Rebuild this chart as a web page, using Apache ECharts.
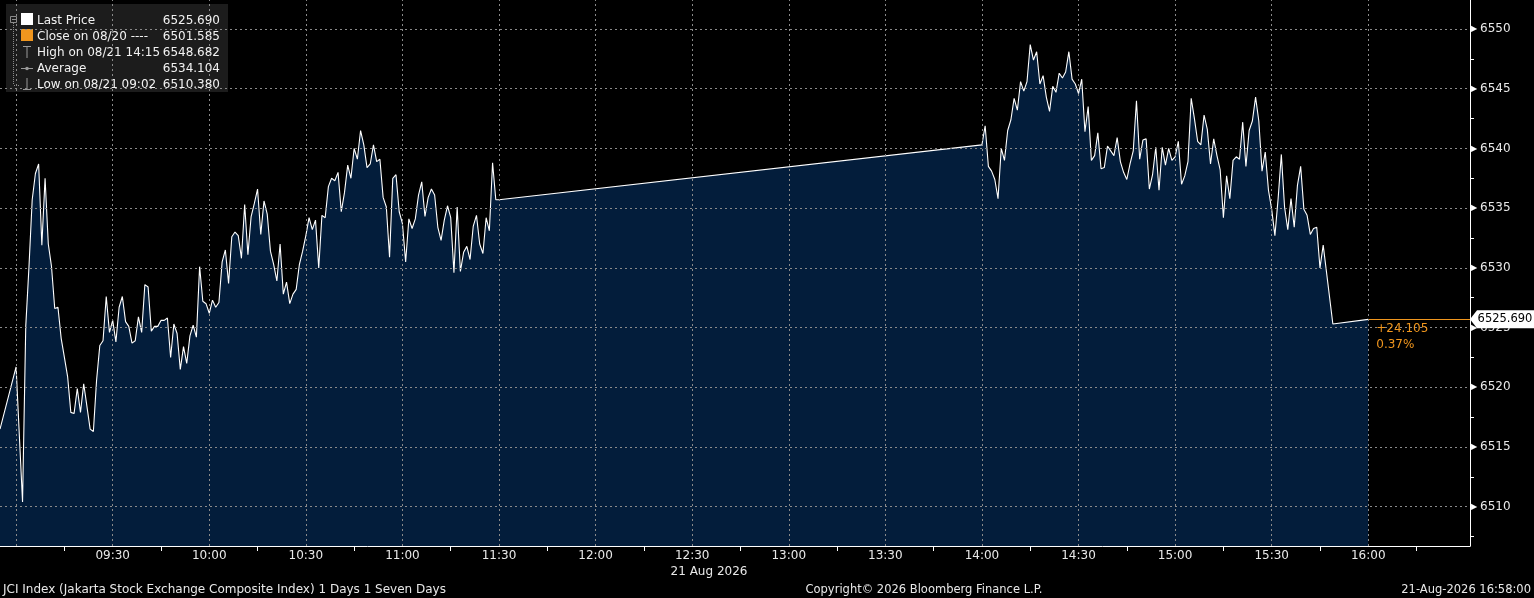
<!DOCTYPE html>
<html><head><meta charset="utf-8">
<script src="https://cdn.jsdelivr.net/npm/echarts@6/dist/echarts.min.js"></script>
<style>html,body{margin:0;padding:0;background:#000;}#c{width:1534px;height:598px;}</style>
</head><body><div id="c"></div>
<script>
// ---------- data ----------
const times1 = ['08:55',
'09:00','09:01','09:02','09:03','09:04','09:05','09:06','09:07','09:08','09:09',
'09:10','09:11','09:12','09:13','09:14','09:15','09:16','09:17','09:18','09:19',
'09:20','09:21','09:22','09:23','09:24','09:25','09:26','09:27','09:28','09:29',
'09:30','09:31','09:32','09:33','09:34','09:35','09:36','09:37','09:38','09:39',
'09:40','09:41','09:42','09:43','09:44','09:45','09:46','09:47','09:48','09:49',
'09:50','09:51','09:52','09:53','09:54','09:55','09:56','09:57','09:58','09:59',
'10:00','10:01','10:02','10:03','10:04','10:05','10:06','10:07','10:08','10:09',
'10:10','10:11','10:12','10:13','10:14','10:15','10:16','10:17','10:18','10:19',
'10:20','10:21','10:22','10:23','10:24','10:25','10:26','10:27','10:28','10:29',
'10:30','10:31','10:32','10:33','10:34','10:35','10:36','10:37','10:38','10:39',
'10:40','10:41','10:42','10:43','10:44','10:45','10:46','10:47','10:48','10:49',
'10:50','10:51','10:52','10:53','10:54','10:55','10:56','10:57','10:58','10:59',
'11:00','11:01','11:02','11:03','11:04','11:05','11:06','11:07','11:08','11:09',
'11:10','11:11','11:12','11:13','11:14','11:15','11:16','11:17','11:18','11:19',
'11:20','11:21','11:22','11:23','11:24','11:25','11:26','11:27','11:28','11:29',
'11:30'];
const prices1 = [6516.5,
6521.7,6516.0,6510.4,6525.1,6530.1,6535.7,6537.9,6538.7,6531.9,6537.5,
6532.0,6530.1,6526.6,6526.7,6524.1,6522.5,6520.9,6517.9,6517.8,6519.9,
6517.9,6520.3,6518.4,6516.5,6516.3,6520.6,6523.5,6523.9,6527.6,6524.6,
6525.6,6523.8,6526.7,6527.6,6525.5,6525.1,6523.7,6523.9,6525.9,6524.6,
6528.6,6528.4,6524.7,6525.1,6525.1,6525.6,6525.6,6525.8,6522.5,6525.3,
6524.5,6521.5,6523.4,6522.0,6524.3,6525.2,6524.2,6530.1,6527.2,6527.0,
6526.2,6527.3,6526.7,6527.1,6530.5,6531.5,6528.7,6532.6,6533.0,6532.7,
6530.8,6535.3,6531.1,6534.3,6535.4,6536.6,6532.8,6535.6,6534.5,6531.4,
6530.3,6528.9,6532.0,6527.8,6528.8,6527.0,6527.8,6528.2,6530.3,6531.4,
6532.7,6534.2,6533.2,6534.0,6530.0,6534.4,6534.2,6536.8,6537.5,6537.3,
6538.0,6534.7,6536.3,6538.6,6537.5,6540.0,6539.1,6541.5,6540.3,6538.4,
6538.7,6540.3,6538.9,6539.1,6535.9,6535.1,6530.9,6537.5,6537.8,6534.7,
6533.7,6530.5,6534.1,6533.3,6534.1,6536.1,6537.2,6534.3,6535.9,6536.6,
6536.1,6533.4,6532.3,6534.0,6535.2,6534.2,6529.6,6535.1,6529.7,6531.3,
6531.8,6530.7,6533.5,6534.4,6532.0,6531.2,6534.2,6533.1,6538.8,6535.7,
6535.7];
const times2 = [
'14:00','14:01','14:02','14:03','14:04','14:05','14:06','14:07','14:08','14:09',
'14:10','14:11','14:12','14:13','14:14','14:15','14:16','14:17','14:18','14:19',
'14:20','14:21','14:22','14:23','14:24','14:25','14:26','14:27','14:28','14:29',
'14:30','14:31','14:32','14:33','14:34','14:35','14:36','14:37','14:38','14:39',
'14:40','14:41','14:42','14:43','14:44','14:45','14:46','14:47','14:48','14:49',
'14:50','14:51','14:52','14:53','14:54','14:55','14:56','14:57','14:58','14:59',
'15:00','15:01','15:02','15:03','15:04','15:05','15:06','15:07','15:08','15:09',
'15:10','15:11','15:12','15:13','15:14','15:15','15:16','15:17','15:18','15:19',
'15:20','15:21','15:22','15:23','15:24','15:25','15:26','15:27','15:28','15:29',
'15:30','15:31','15:32','15:33','15:34','15:35','15:36','15:37','15:38','15:39',
'15:40','15:41','15:42','15:43','15:44','15:45','15:46',
'15:49','16:00'];
const prices2 = [
6540.3,6541.9,6538.5,6538.1,6537.4,6535.8,6540.0,6539.0,6541.5,6542.4,
6544.2,6543.2,6545.6,6544.8,6545.6,6548.7,6547.4,6548.1,6545.4,6546.1,
6544.3,6543.1,6545.2,6544.7,6546.3,6545.9,6546.4,6548.1,6545.8,6545.4,
6544.6,6545.8,6541.4,6543.5,6539.0,6539.4,6541.3,6538.3,6538.4,6540.2,
6539.8,6539.4,6540.9,6538.9,6538.0,6537.4,6538.7,6539.8,6544.0,6539.1,
6540.7,6540.8,6536.6,6537.8,6540.1,6536.5,6540.1,6538.6,6540.0,6539.0,
6539.3,6540.6,6537.0,6537.7,6538.9,6544.2,6542.5,6540.6,6540.3,6542.8,
6541.6,6538.7,6540.8,6539.4,6538.2,6534.2,6537.7,6535.8,6539.0,6539.3,
6539.1,6542.2,6538.5,6541.5,6542.3,6544.3,6542.3,6538.1,6539.7,6536.5,
6534.9,6532.7,6535.8,6539.5,6535.1,6533.2,6535.8,6533.4,6536.9,6538.5,
6534.9,6534.4,6532.8,6533.3,6533.4,6530.0,6531.9,
6525.3,6525.69];

const xLabelTimes = ['09:30','10:00','10:30','11:00','11:30','12:00','12:30','13:00','13:30','14:00','14:30','15:00','15:30','16:00'];
const xTickTimes = ['09:15','09:45','10:15','10:45','11:15','11:45','12:15','12:45','13:15','13:45','14:15','14:45','15:15','15:45','16:15'];
const xGridTimes = ['09:00','09:30','10:00','10:30','11:00','11:30','12:00','12:30','13:00','13:30','14:00','14:30','15:00','15:30','16:00'];
const yMinorTicks = [6507.5,6512.5,6517.5,6522.5,6527.5,6532.5,6537.5,6542.5,6547.5];

const legendLabels = ['Last Price','Close on 08/20 ----','High on 08/21 14:15','Average','Low on 08/21 09:02'];
const legendValues = ['6525.690','6501.585','6548.682','6534.104','6510.380'];
const lastPrice = 6525.690;
const lastTime = '16:00';
const changeLines = ['+24.105','0.37%'];
const dateLabel = '21 Aug 2026';
const footerLeft = 'JCI Index (Jakarta Stock Exchange Composite Index) 1 Days 1 Seven Days';
const footerCenter = 'Copyright\u00A9 2026 Bloomberg Finance L.P.';
const footerRight = '21-Aug-2026 16:58:00';

// axis extents (minutes since midnight / index points)
const xMin = 535.0, xMax = 991.6;
const yMin = 6506.71, yMax = 6552.43;

// ---------- build ----------
const toMin = s => { const p = s.split(':'); return (+p[0]) * 60 + (+p[1]); };
const pad = n => (n < 10 ? '0' : '') + n;
const fmt = v => pad(Math.floor(v / 60)) + ':' + pad(Math.round(v % 60));
const isMajor = v => Math.abs(v % 5) < 1e-6;

const priceData = times1.map((t, i) => [toMin(t), prices1[i]])
  .concat(times2.map((t, i) => [toMin(t), prices2[i]]));

const FONT = 'DejaVu Sans';
const TXT = '#e8e8e8';
const GRIDC = '#8a8a8a';
const ORANGE = '#f0961e';

const chart = echarts.init(document.getElementById('c'), null, {renderer: 'canvas'});

const legendGraphics = [
  {type: 'rect', shape: {x: 6, y: 4, width: 222, height: 88}, style: {fill: '#1c1c1c'}},
  {type: 'rect', shape: {x: 10.5, y: 16.5, width: 6, height: 6}, style: {fill: 'none', stroke: '#8c8c8c', lineWidth: 1}},
  {type: 'line', shape: {x1: 12, y1: 19.5, x2: 16, y2: 19.5}, style: {stroke: '#8c8c8c', lineWidth: 1}},
  {type: 'line', shape: {x1: 13.5, y1: 23, x2: 13.5, y2: 85}, style: {stroke: '#8c8c8c', lineWidth: 1, lineDash: [1, 1]}},
  {type: 'line', shape: {x1: 14, y1: 85.5, x2: 20, y2: 85.5}, style: {stroke: '#8c8c8c', lineWidth: 1, lineDash: [1, 1]}},
  {type: 'rect', shape: {x: 21, y: 13, width: 12, height: 12}, style: {fill: '#ffffff'}},
  {type: 'rect', shape: {x: 21, y: 29, width: 12, height: 12}, style: {fill: ORANGE}},
  {type: 'line', shape: {x1: 23, y1: 46.5, x2: 31, y2: 46.5}, style: {stroke: '#9a9a9a', lineWidth: 1}},
  {type: 'line', shape: {x1: 27, y1: 46, x2: 27, y2: 58}, style: {stroke: '#9a9a9a', lineWidth: 1}},
  {type: 'line', shape: {x1: 21, y1: 68.5, x2: 33, y2: 68.5}, style: {stroke: '#9a9a9a', lineWidth: 1}},
  {type: 'circle', shape: {cx: 27, cy: 68.5, r: 1.8}, style: {fill: '#9a9a9a'}},
  {type: 'line', shape: {x1: 27, y1: 78, x2: 27, y2: 90}, style: {stroke: '#9a9a9a', lineWidth: 1}},
  {type: 'line', shape: {x1: 23, y1: 89.5, x2: 31, y2: 89.5}, style: {stroke: '#9a9a9a', lineWidth: 1}}
];
legendLabels.forEach((lab, i) => {
  const y = 20.5 + i * 16;
  legendGraphics.push({type: 'text', x: 37, y: y, style: {text: lab, fill: '#f2f2f2', font: '12px "' + FONT + '"', textVerticalAlign: 'middle'}});
  legendGraphics.push({type: 'text', x: 220, y: y, style: {text: legendValues[i], fill: '#f2f2f2', font: '12px "' + FONT + '"', textAlign: 'right', textVerticalAlign: 'middle'}});
});

const footerGraphics = [
  {type: 'text', x: 3, y: 590, style: {text: footerLeft, fill: TXT, font: '12px "' + FONT + '"', textVerticalAlign: 'middle'}},
  {type: 'text', x: 924, y: 590, style: {text: footerCenter, fill: TXT, font: '11.5px "' + FONT + '"', textAlign: 'center', textVerticalAlign: 'middle'}},
  {type: 'text', x: 1531, y: 590, style: {text: footerRight, fill: TXT, font: '11.5px "' + FONT + '"', textAlign: 'right', textVerticalAlign: 'middle'}},
  {type: 'text', x: 709, y: 572, style: {text: dateLabel, fill: TXT, font: '12px "' + FONT + '"', textAlign: 'center', textVerticalAlign: 'middle'}}
];

const option = {
  backgroundColor: '#000000',
  animation: false,
  textStyle: {fontFamily: FONT},
  grid: {left: 0, right: 64, top: 0, bottom: 52, containLabel: false},
  xAxis: [{
    type: 'value', min: xMin, max: xMax,
    axisLine: {show: true, lineStyle: {color: '#ffffff', width: 1}},
    axisTick: {show: true, customValues: xTickTimes.map(toMin), length: 5, lineStyle: {color: '#ffffff'}},
    axisLabel: {show: true, customValues: xLabelTimes.map(toMin), formatter: v => fmt(v), color: TXT, fontSize: 12, margin: 4, fontFamily: FONT},
    splitLine: {show: false}
  }],
  yAxis: [{
    type: 'value', position: 'right', min: yMin, max: yMax, splitNumber: 9, z: 3,
    axisLine: {show: true, onZero: false, lineStyle: {color: '#ffffff', width: 1}},
    axisTick: {show: false},
    axisLabel: {
      show: true, margin: 10, showMinLabel: false, showMaxLabel: false,
      fontSize: 12, color: TXT, fontFamily: FONT,
      formatter: v => (isMajor(v) ? String(v) : '')
    },
    splitLine: {show: true, showMinLine: false, showMaxLine: false, lineStyle: {color: GRIDC, type: [2, 3], width: 1}}
  }, {
    type: 'value', position: 'right', min: yMin, max: yMax,
    axisLine: {show: false},
    axisLabel: {show: false},
    splitLine: {show: false},
    axisTick: {show: true, customValues: yMinorTicks, length: 4, lineStyle: {color: '#ffffff'}}
  }, {
    type: 'value', position: 'right', min: yMin, max: yMax, splitNumber: 9,
    axisLine: {show: false},
    axisTick: {show: false},
    splitLine: {show: false},
    axisLabel: {
      show: true, margin: 1, showMinLabel: false, showMaxLabel: false,
      fontSize: 8, color: '#ffffff', fontFamily: FONT,
      formatter: v => (isMajor(v) ? '\u25B6' : '')
    }
  }],
  graphic: {elements: legendGraphics.concat(footerGraphics)},
  series: [{
    name: 'Last Price', type: 'line', data: priceData, showSymbol: false, symbol: 'none',
    lineStyle: {color: '#ffffff', width: 1.1},
    areaStyle: {color: '#031d3b', opacity: 1, origin: 'start'},
    z: 2, silent: true,
    markLine: {
      silent: true, symbol: ['none', 'none'], animation: false,
      lineStyle: {color: ORANGE, width: 1, type: 'solid', opacity: 1},
      data: [[
        {coord: [toMin(lastTime), lastPrice]},
        {coord: [xMax, lastPrice]}
      ]],
      label: {show: true, position: 'insideStartBottom', formatter: changeLines.join('\n'), color: ORANGE, fontSize: 12, lineHeight: 16, fontFamily: FONT, align: 'left', distance: [8, 2]}
    },
    markPoint: {
      silent: true, animation: false,
      data: [{coord: [xMax, lastPrice]}],
      symbol: 'path://M0,9L7,0L64,0L64,18L7,18Z', symbolSize: [64, 18], symbolOffset: [32, 0], symbolKeepAspect: false,
      itemStyle: {color: '#ffffff'},
      label: {show: true, formatter: lastPrice.toFixed(3), color: '#000000', fontSize: 11.5, fontFamily: FONT, offset: [3, 0]}
    }
  }, {
    name: 'grid', type: 'line', data: [], z: 3, silent: true,
    markLine: {
      silent: true, symbol: ['none', 'none'], animation: false,
      label: {show: false},
      lineStyle: {color: GRIDC, type: [2, 3], width: 1},
      data: xGridTimes.map(t => ({xAxis: toMin(t)}))
    }
  }]
};
chart.setOption(option);
</script>
</body></html>
